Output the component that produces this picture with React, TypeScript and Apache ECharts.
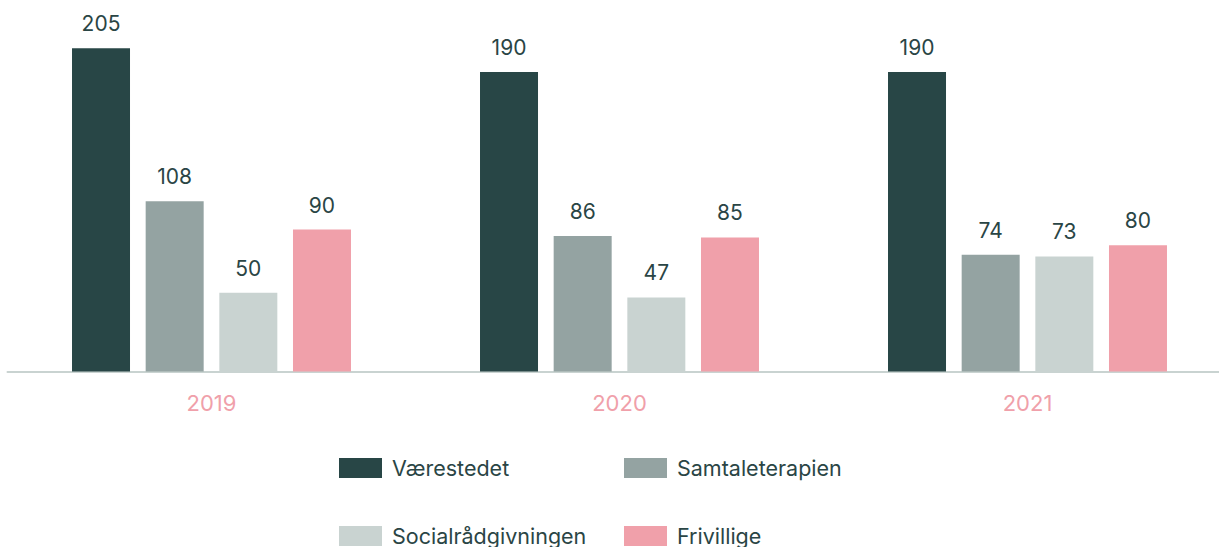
import React, { useEffect, useRef } from "react";
import * as echarts from "echarts";

const categories = ["2019", "2020", "2021"];
const seriesNames = ["Værestedet", "Samtaleterapien", "Socialrådgivningen", "Frivillige"];
const vaerestedet = [205, 190, 190];
const samtaleterapien = [108, 86, 74];
const socialraadgivningen = [50, 47, 73];
const frivillige = [90, 85, 80];
const colors = ["#284646", "#94a3a2", "#c9d3d1", "#f0a0aa"];

const FONT = "Inter, 'Noto Sans', sans-serif";
const TEXT = "#2a4545";

const legendPos = [
  { left: 339, top: 457 },
  { left: 624, top: 457 },
  { left: 339, top: 525 },
  { left: 624, top: 525 },
];

export default function App() {
  const ref = useRef<HTMLDivElement>(null);
  useEffect(() => {
    if (!ref.current) return;
    const chart = echarts.init(ref.current, null, { renderer: "svg" });
    const values = [vaerestedet, samtaleterapien, socialraadgivningen, frivillige];
    chart.setOption({
      animation: false,
      grid: { left: 7.5, right: 0.5, top: 48.3, bottom: 175.5, containLabel: false },
      xAxis: {
        type: "category",
        data: categories,
        axisLine: { show: true, lineStyle: { color: "#c9d3d1", width: 2 } },
        axisTick: { show: false },
        axisLabel: { color: "#f0a0aa", fontSize: 22, fontFamily: FONT, margin: 20 },
      },
      yAxis: {
        type: "value",
        min: 0,
        max: 205,
        show: false,
        splitLine: { show: false },
      },
      legend: seriesNames.map((name, i) => ({
        data: [name],
        left: legendPos[i].left,
        top: legendPos[i].top,
        padding: 0,
        itemWidth: 43,
        itemHeight: 20,
        itemGap: 10,
        icon: "rect",
        selectedMode: false,
        textStyle: { color: TEXT, fontSize: 21.5, fontFamily: FONT, padding: [0, 0, 0, 5] },
      })),
      series: seriesNames.map((name, i) => ({
        name,
        type: "bar",
        data: values[i],
        barWidth: 58,
        barGap: "27%",
        itemStyle: { color: colors[i] },
        label: {
          show: true,
          position: "top",
          distance: 14,
          color: TEXT,
          fontSize: 21,
          fontFamily: FONT,
        },
      })),
    });
    return () => chart.dispose();
  }, []);
  return (
    <div style={{ position: "absolute", left: 0, top: 0, width: 1219, height: 547, overflow: "hidden" }}>
      <div ref={ref} style={{ width: 1232, height: 547 }} />
    </div>
  );
}
